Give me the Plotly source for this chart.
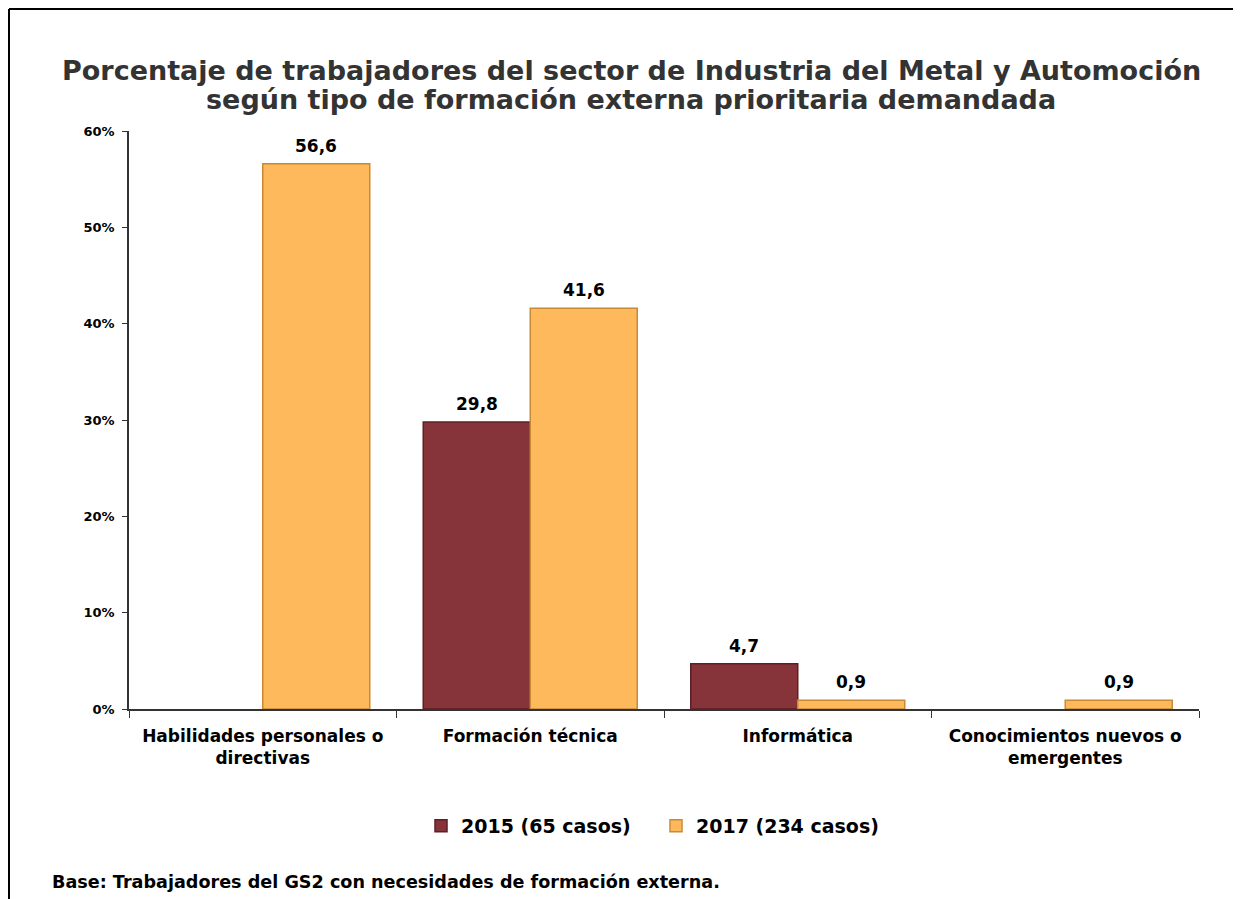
import plotly.graph_objects as go

categories = ["Habilidades personales o<br>directivas", "Formación técnica", "Informática",
              "Conocimientos nuevos o<br>emergentes"]
series_names = ["2015 (65 casos)", "2017 (234 casos)"]
values_2015 = [None, 29.8, 4.7, None]
values_2017 = [56.6, 41.6, 0.9, 0.9]
y_ticks = [0, 10, 20, 30, 40, 50, 60]
title_lines = ["Porcentaje de trabajadores del sector de Industria del Metal y Automoción",
               "según tipo de formación externa prioritaria demandada"]
note = "Base: Trabajadores del GS2 con necesidades de formación externa."

colors = ["#86333A", "#FDB95B"]
edge_colors = ["#5E1F24", "#C98A35"]

FONT = "DejaVu Sans, Verdana, sans-serif"

def fmt(v):
    return "" if v is None else f"{v:.1f}".replace(".", ",")

# page body has an 8px margin, so layout coords = page coords - 8
OFF = 8
W, H = 1241, 899
L, R, T, B = 129 - OFF, W - (1199 - OFF), 131 - OFF, H - (709 - OFF)
pw, ph = W - L - R, H - T - B
BARGAP = 0.2
n_series = 2
cat_w = pw / len(categories)
bar_w = cat_w * (1 - BARGAP) / n_series

def px(x):
    return (x - OFF - L) / pw

def py(y):
    return (H - B - (y - OFF)) / ph

fig = go.Figure()
for i, (name, vals, c, ec) in enumerate(zip(series_names, [values_2015, values_2017], colors, edge_colors)):
    fig.add_trace(go.Bar(
        x=categories, y=vals, name=name,
        marker=dict(color=c, line=dict(color=ec, width=1.5)),
        cliponaxis=False,
    ))
    shift = (i - (n_series - 1) / 2) * bar_w
    for cat, v in zip(categories, vals):
        if v is None:
            continue
        fig.add_annotation(
            x=cat, y=v, xref="x", yref="y", text=fmt(v), showarrow=False,
            xanchor="center", yanchor="bottom", xshift=shift, yshift=6,
            font=dict(family=FONT, size=17, color="#000000", weight="bold"),
        )

fig.update_layout(
    width=W, height=H,
    margin=dict(l=L, r=R, t=T, b=B),
    paper_bgcolor="white", plot_bgcolor="white",
    barmode="group", bargap=BARGAP, bargroupgap=0.0,
    legend=dict(
        orientation="h", x=px(421), xanchor="left", y=py(826), yanchor="middle",
        font=dict(family=FONT, size=19, color="#000000", weight="bold"),
        itemwidth=30, traceorder="normal",
        entrywidth=190, entrywidthmode="pixels",
    ),
    xaxis=dict(
        showline=True, linecolor="#333333", linewidth=1.5,
        ticks="outside", tickson="boundaries", ticklen=7, tickcolor="#333333",
        tickfont=dict(family=FONT, size=17, color="#000000", weight="bold"),
        ticklabelstandoff=11,
        showgrid=False,
    ),
    yaxis=dict(
        range=[0, 60], tickvals=y_ticks, ticktext=[f"{v}%" for v in y_ticks],
        showline=True, linecolor="#333333", linewidth=1.5,
        ticks="outside", ticklen=5, tickcolor="#333333",
        tickfont=dict(family=FONT, size=13, color="#000000", weight="bold"),
        ticklabelstandoff=5,
        showgrid=False, zeroline=False,
    ),
    showlegend=True,
)

for line, ypos in zip(title_lines, [70, 100]):
    fig.add_annotation(
        text=line, xref="paper", yref="paper", x=px(631), y=py(ypos),
        xanchor="center", yanchor="middle", showarrow=False,
        font=dict(family=FONT, size=27, color="#333333", weight="bold"),
    )

fig.add_annotation(
    text=note,
    xref="paper", yref="paper", x=px(50), y=py(882), xanchor="left", yanchor="middle",
    showarrow=False, font=dict(family=FONT, size=17.6, color="#000000", weight="bold"),
)

# chart frame (top and left edges visible)
fig.add_shape(type="line", xref="paper", yref="paper", x0=px(9), x1=px(1260), y0=py(9), y1=py(9),
              line=dict(color="#000000", width=2))
fig.add_shape(type="line", xref="paper", yref="paper", x0=px(9), x1=px(9), y0=py(9), y1=py(920),
              line=dict(color="#000000", width=2))

fig.write_html("out.html")
